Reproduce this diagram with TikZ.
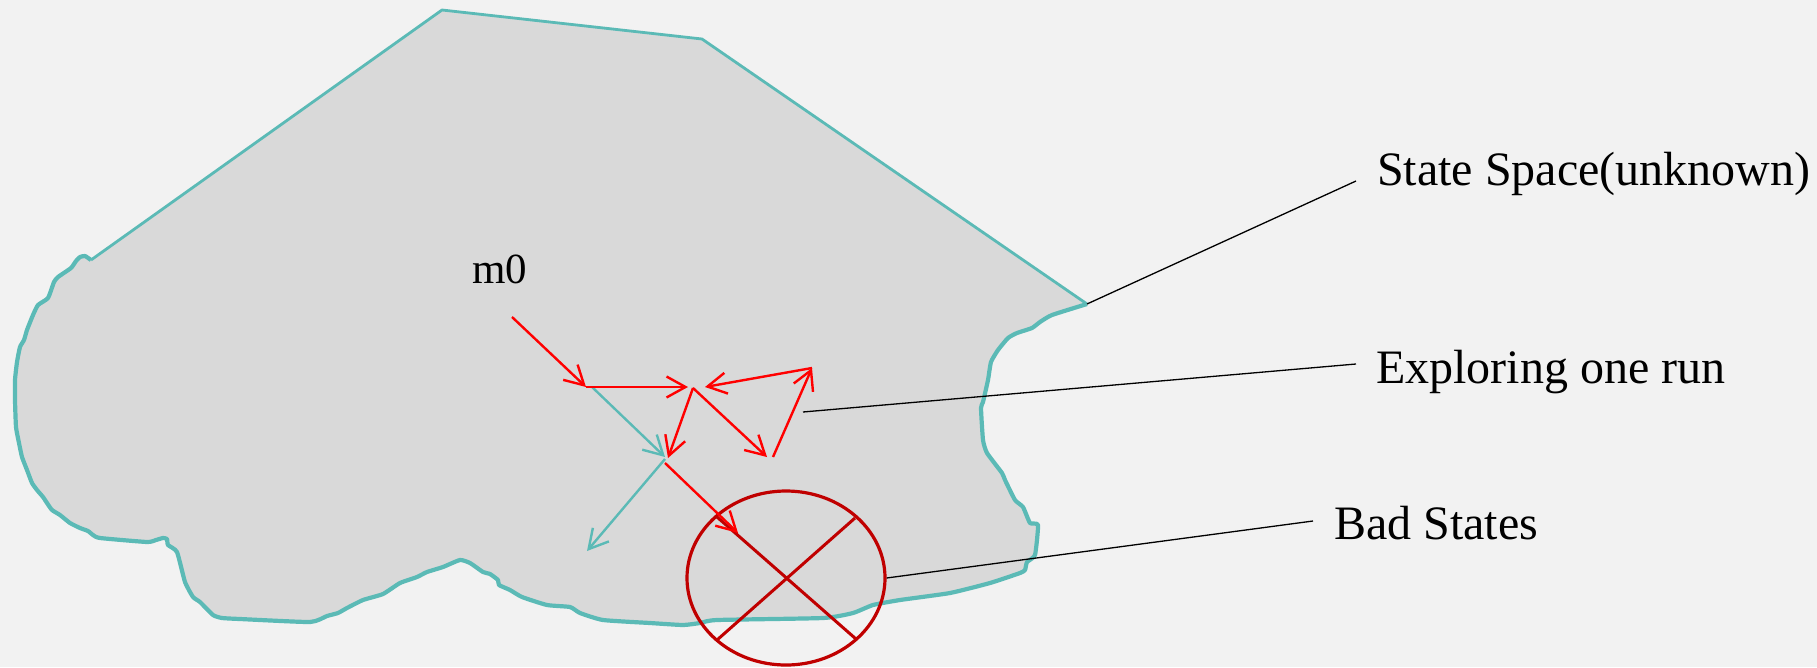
\documentclass[tikz,border=0pt]{standalone}
\usepackage{fontspec}
\setmainfont{Liberation Serif}
\newfontfamily\labelfont{Liberation Serif}
\usetikzlibrary{arrows.meta,shapes.geometric}
\definecolor{bgc}{HTML}{F2F2F2}
\definecolor{shapefill}{HTML}{D9D9D9}
\definecolor{tealc}{HTML}{5BBAB6}
\definecolor{redc}{HTML}{FF0000}
\definecolor{darkredc}{HTML}{C00000}
\tikzset{
  redarrow/.style={draw=redc, line width=2.4pt, -{Straight Barb[length=19pt,width=21pt,line width=2.4pt]}},
  tealarrow/.style={draw=tealc, line width=2.4pt, -{Straight Barb[length=19pt,width=21pt,line width=2.4pt]}},
  leader/.style={draw=black, line width=1.3pt},
  label/.style={inner sep=0pt, anchor=base west, font=\labelfont\fontsize{48}{58}\selectfont},
  crossline/.style={draw=darkredc, line width=3pt},
}
\begin{document}
\begin{tikzpicture}[x=1pt,y=-1pt]
\fill[bgc] (0,0) rectangle (1817,667);
\useasboundingbox (0,0) rectangle (1817,667);
\def\wavy{(91,260) (85,256) (80,257) (76,261) (71,268) (58,277) (54,282) (48,298) (38,305) (33,315) (27,330) (24,340) (20,347) (17,362) (15,380) (15,400) (16,427) (19,443) (22,457) (27,470) (32,483) (37,490) (43,497) (47,503) (52,510) (60,515) (70,523) (80,528) (88,531) (93,535) (100,538) (147,542) (156,540) (163,538) (167,539) (168,545) (177,552) (185,582) (193,597) (200,602) (213,615) (222,618) (240,619) (310,622) (327,616) (338,613) (347,608) (363,600) (383,594) (400,583) (417,577) (427,572) (443,567) (460,560) (470,563) (483,572) (490,574) (498,580) (499,585) (510,590) (522,597) (547,605) (570,607) (580,613) (603,620) (650,623) (683,625) (700,623) (717,620) (823,618) (853,613) (873,605) (900,600) (950,593) (990,583) (1020,573) (1025,570) (1027,562) (1035,555) (1038,525) (1030,523) (1023,507) (1015,500) (1005,480) (1002,473) (987,453) (983,440) (981,408) (983,402) (988,380) (991,362) (998,350) (1008,338) (1017,333) (1032,328) (1040,322) (1052,315) (1087,304)}
% state space shape
\fill[shapefill] plot[smooth,tension=0.3] coordinates {\wavy} -- (702,39) -- (442,10) -- cycle;
\draw[tealc, line width=2.8pt, line join=round] (91,260) -- (442,10) -- (702,39) -- (1087,304);
\draw[tealc, line width=4.2pt, line join=round] plot[smooth,tension=0.3] coordinates {\wavy};
% points of the run
\coordinate (m0s) at (512,317);
\coordinate (p1) at (586,387);
\coordinate (p1t) at (592,387);
\coordinate (p2) at (688,387);
\coordinate (p3) at (693,388);
\coordinate (p3b) at (705,387);
\coordinate (p4) at (668,458);
\coordinate (p5) at (767,457);
\coordinate (p5b) at (773,457);
\coordinate (p6) at (812,368);
\coordinate (t1) at (665,457);
\coordinate (t1b) at (665,459);
\coordinate (t2) at (587,551);
\coordinate (q1) at (665,463);
\coordinate (q2) at (738,533);
\coordinate (corner) at (1087,304);
\coordinate (runpt) at (803,412);
% bad states ellipse
\node[ellipse, draw=darkredc, line width=3.2pt, minimum width=198pt, minimum height=174pt, inner sep=0pt] (bad) at (786,578) {};
\coordinate (c1) at (717,517);
\coordinate (c2) at (856,639);
\coordinate (c3) at (855,518);
\coordinate (c4) at (717,640);
\draw[crossline] (c1) -- (c2);
\draw[crossline] (c3) -- (c4);
% teal arrows
\draw[tealarrow] (p1t) -- (t1);
\draw[tealarrow] (t1b) -- (t2);
% red arrows
\draw[redarrow] (m0s) -- (p1);
\draw[redarrow] (p1) -- (p2);
\draw[redarrow] (p3) -- (p4);
\draw[redarrow] (p3) -- (p5);
\draw[redarrow] (p5b) -- (p6);
\draw[redarrow] (p6) -- (p3b);
\draw[redarrow] (q1) -- (q2);
% labels
\node[inner sep=0pt, anchor=base west, font=\labelfont\fontsize{43}{52}\selectfont] (m0) at (472,283) {m0};
\node[label] (ss) at (1377,185) {State Space(unknown)};
\node[label] (er) at (1376,383) {Exploring one run};
\node[label] (bs) at (1334,539) {Bad States};
\coordinate (ssend) at (1356,181);
\coordinate (erend) at (1356,364);
\coordinate (bsend) at (1313,521);
\draw[leader] (corner) -- (ssend);
\draw[leader] (runpt) -- (erend);
\draw[leader] (bad.east) -- (bsend);
\end{tikzpicture}
\end{document}
